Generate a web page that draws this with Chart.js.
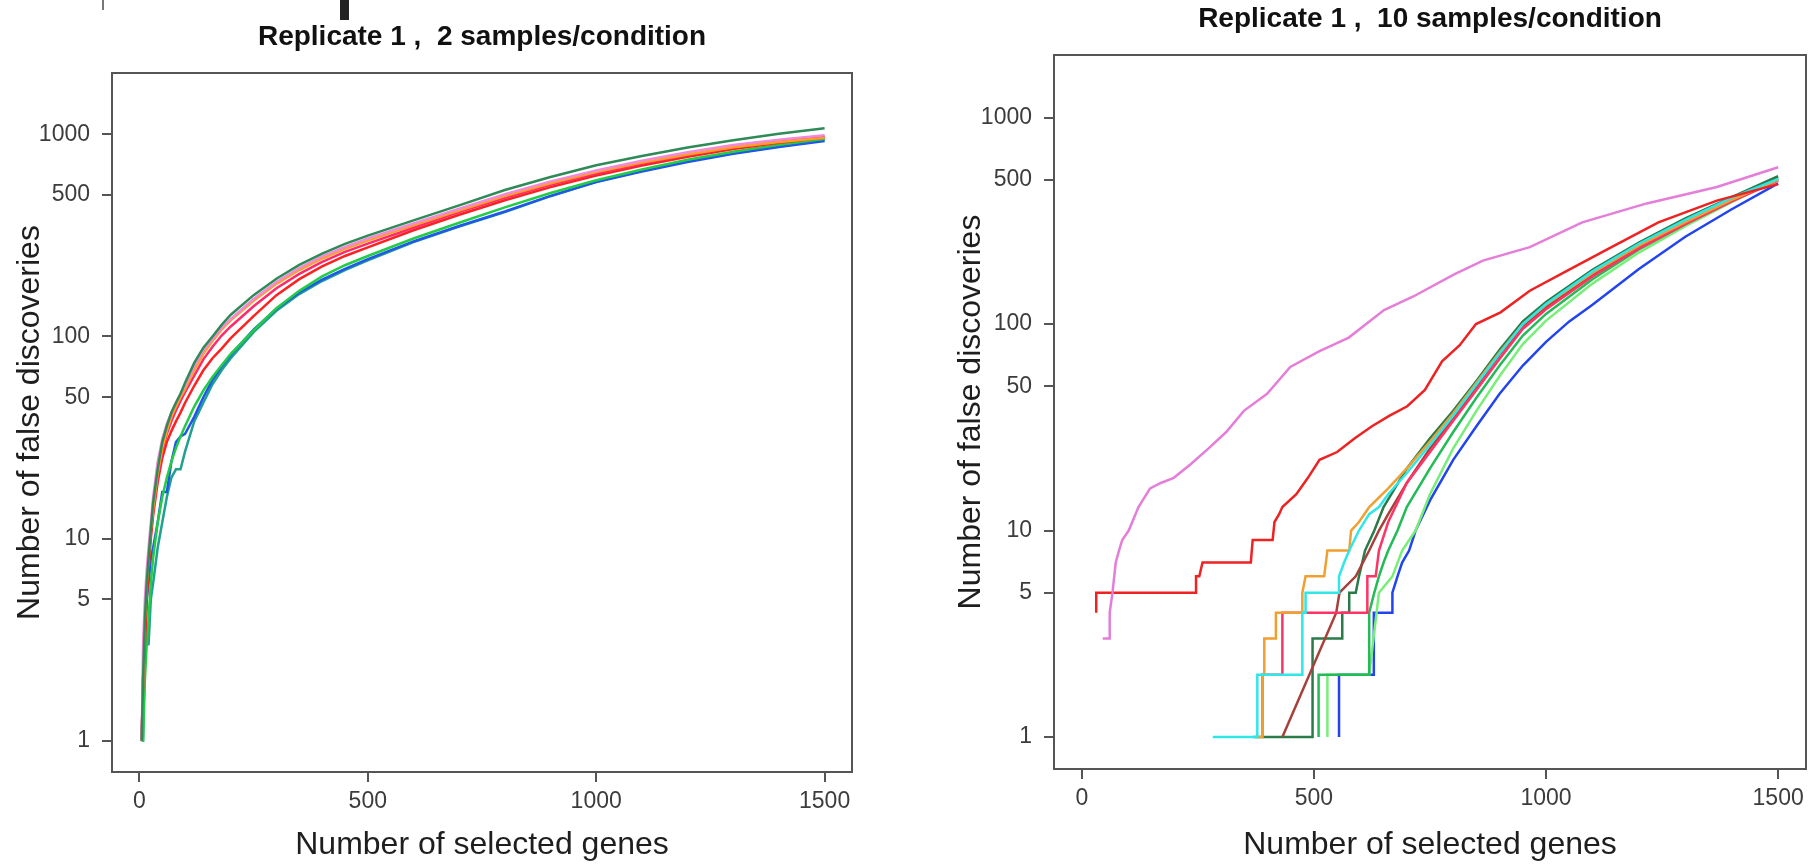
<!DOCTYPE html>
<html>
<head>
<meta charset="utf-8">
<title>False discoveries vs selected genes</title>
<script src="https://cdn.jsdelivr.net/npm/chart.js@4.4.1/dist/chart.umd.min.js"></script>
<style>
  html, body { margin: 0; padding: 0; background: #fff; }
  body { width: 1817px; height: 864px; position: relative; overflow: hidden; }
  .panel { position: absolute; top: 0; height: 864px; }
  #leftPanel { left: 0; width: 880px; }
  #rightPanel { left: 940px; width: 877px; }
  .crop-mark { position: absolute; top: 0; background: #222; }
</style>
</head>
<body>
<!-- bits of the figure above that were cut off by the crop -->
<div class="crop-mark" style="left:102px;width:2px;height:10px;background:#777"></div>
<div class="crop-mark" style="left:340px;width:9px;height:20px"></div>

<div id="leftPanel" class="panel"><canvas id="leftChart" width="880" height="864"></canvas></div>
<div id="rightPanel" class="panel"><canvas id="rightChart" width="877" height="864"></canvas></div>

<script>
/* ========================================
   Data
   ======================================== */

const geneTicks = [0, 500, 1000, 1500];
const fdTicks = [1, 5, 10, 50, 100, 500, 1000];

// Left panel: 2 samples/condition (all curves share the same x grid)
const genesLeft = [5, 8, 12, 16, 20, 25, 30, 40, 50, 60, 70, 80, 90, 100, 120, 140, 160, 180, 200, 250, 300, 350, 400, 450, 500, 600, 700, 800, 900, 1000, 1100, 1200, 1300, 1400, 1500];
const fdLeftSeaGreen = [1, 2, 4, 6, 8, 11, 15, 22, 30, 36, 42, 47, 52, 59, 74, 88, 100, 114, 128, 160, 193, 226, 257, 287, 315, 375, 445, 530, 615, 703, 780, 860, 935, 1005, 1072];
const fdLeftPink = [1, 3, 5, 7, 9, 12, 16, 24, 31, 37, 42, 47, 52, 57, 71, 85, 97, 110, 122, 153, 186, 218, 249, 277, 305, 362, 428, 505, 585, 662, 740, 815, 885, 940, 990];
const fdLeftOrange = [1, 2, 4, 6, 8, 11, 14, 21, 28, 34, 40, 45, 50, 55, 68, 82, 95, 108, 120, 150, 182, 213, 243, 271, 298, 355, 420, 495, 572, 650, 725, 795, 862, 915, 960];
const fdLeftCrimson = [1, 2, 4, 6, 8, 11, 14, 20, 27, 33, 38, 43, 48, 53, 64, 77, 89, 101, 112, 141, 173, 204, 234, 262, 288, 345, 412, 485, 562, 640, 715, 790, 860, 922, 975];
const fdLeftRed = [1, 2, 3, 5, 7, 10, 13, 19, 25, 30, 34, 38, 42, 47, 57, 68, 78, 87, 98, 126, 160, 192, 222, 250, 276, 335, 400, 472, 548, 625, 700, 775, 845, 908, 965];
const fdLeftGreen = [1, 1, 2, 3, 4, 6, 8, 12, 16, 20, 24, 28, 32, 36, 45, 54, 63, 72, 82, 107, 138, 168, 198, 225, 250, 305, 365, 435, 512, 592, 670, 748, 820, 888, 950];
const fdLeftBlue = [1, 2, 3, 5, 6, 8, 9, 12, 17, 17, 24, 30, 32, 33, 40, 50, 61, 71, 81, 108, 137, 165, 191, 216, 241, 295, 352, 415, 496, 580, 655, 730, 800, 865, 925];
const fdLeftTeal = [1, 1, 3, 3, 3, 5, 6, 9, 12, 16, 20, 22, 22, 27, 38, 47, 58, 68, 78, 105, 134, 162, 188, 213, 238, 293, 350, 412, 494, 582, 660, 735, 805, 870, 935];

// Right panel: 10 samples/condition (each curve has its own steps)
const orchidGenes = [45, 60, 60, 66, 73, 80, 87, 101, 122, 147, 170, 198, 235, 273, 311, 349, 399, 449, 512, 575, 651, 714, 802, 864, 965, 1078, 1217, 1368, 1500];
const orchidFd = [3, 3, 4, 5, 7, 8, 9, 10, 13, 16, 17, 18, 21, 25, 30, 38, 46, 62, 74, 86, 117, 136, 174, 203, 236, 311, 384, 461, 575];

const redGenes = [31, 31, 246, 246, 253, 260, 364, 368, 411, 415, 425, 432, 462, 487, 512, 550, 588, 625, 663, 701, 739, 776, 814, 849, 902, 965, 1053, 1141, 1242, 1368, 1500];
const redFd = [4, 5, 5, 6, 6, 7, 7, 9, 9, 11, 12, 13, 15, 18, 22, 24, 28, 32, 36, 40, 48, 66, 79, 100, 114, 145, 185, 236, 311, 396, 476];

const cyanGenes = [282, 378, 378, 475, 475, 482, 482, 554, 554, 565, 576, 597, 619, 640, 660, 700, 750, 800, 850, 900, 950, 1000, 1100, 1200, 1300, 1400, 1500];
const cyanFd = [1, 1, 2, 2, 4, 4, 5, 5, 6, 7, 8, 10, 12, 13, 15, 19, 26, 36, 51, 72, 100, 125, 180, 245, 320, 410, 505];

const orangeGenes = [378, 389, 389, 393, 393, 418, 418, 475, 475, 482, 522, 529, 576, 580, 597, 619, 660, 700, 750, 800, 850, 900, 950, 1000, 1100, 1200, 1300, 1400, 1500];
const orangeFd = [1, 1, 2, 2, 3, 3, 4, 4, 5, 6, 6, 8, 8, 10, 11, 13, 16, 20, 27, 37, 52, 73, 100, 124, 177, 240, 312, 400, 500];

const crimsonGenes = [389, 389, 432, 432, 615, 615, 633, 640, 660, 700, 750, 800, 850, 900, 950, 1000, 1100, 1200, 1300, 1400, 1500];
const crimsonFd = [1, 2, 2, 4, 4, 6, 6, 8, 11, 17, 24, 34, 48, 68, 95, 118, 170, 232, 305, 393, 495];

const brownGenes = [432, 548, 555, 590, 619, 640, 660, 700, 750, 800, 850, 900, 950, 1000, 1100, 1200, 1300, 1400, 1500];
const brownFd = [1, 4, 5, 6, 8, 10, 12, 17, 25, 35, 50, 71, 98, 121, 174, 238, 310, 398, 500];

const darkGreenGenes = [370, 497, 497, 561, 561, 576, 576, 590, 597, 610, 630, 650, 700, 750, 800, 850, 900, 950, 1000, 1100, 1200, 1300, 1400, 1500];
const darkGreenFd = [1, 1, 3, 3, 4, 4, 5, 5, 6, 8, 10, 13, 20, 28, 38, 53, 75, 103, 128, 183, 248, 325, 412, 520];

const greenGenes = [510, 510, 619, 619, 630, 640, 650, 660, 680, 700, 750, 800, 850, 900, 950, 1000, 1100, 1200, 1300, 1400, 1500];
const greenFd = [1, 2, 2, 4, 5, 6, 7, 8, 10, 13, 20, 30, 44, 63, 88, 112, 165, 230, 305, 395, 510];

const lightGreenGenes = [529, 529, 619, 640, 669, 690, 719, 750, 800, 850, 900, 950, 1000, 1100, 1200, 1300, 1400, 1500];
const lightGreenFd = [1, 2, 2, 5, 6, 8, 10, 15, 25, 38, 56, 80, 104, 157, 222, 298, 390, 505];

const blueGenes = [554, 554, 629, 629, 669, 669, 680, 690, 705, 719, 750, 800, 850, 900, 950, 1000, 1050, 1100, 1200, 1300, 1400, 1500];
const blueFd = [1, 2, 2, 4, 4, 5, 6, 7, 8, 10, 14, 22, 32, 46, 63, 82, 103, 124, 185, 265, 360, 480];

/* ========================================
   Chart setup
   ======================================== */

const FONT = "'Liberation Sans', Arial, Helvetica, sans-serif";
Chart.defaults.font.family = FONT;
Chart.defaults.color = '#3c3c3c';

// R-style box around the plotting region
const framePlugin = {
    id: 'frame',
    afterDraw(chart) {
        const { ctx, chartArea: a } = chart;
        ctx.save();
        ctx.strokeStyle = '#555';
        ctx.lineWidth = 2;
        ctx.strokeRect(a.left, a.top, a.right - a.left, a.bottom - a.top);
        ctx.restore();
    }
};

function series(label, color, xs, ys) {
    return {
        label: label,
        borderColor: color,
        backgroundColor: color,
        data: xs.map((x, i) => ({ x: x, y: ys[i] })),
        borderWidth: 2.5,
        pointRadius: 0,
        tension: 0,
        fill: false
    };
}

function panelOptions(p) {
    const tickGrid = { drawOnChartArea: false, drawTicks: true, tickLength: 10, color: '#555', lineWidth: 2 };
    return {
        responsive: false,
        animation: false,
        events: [],
        layout: { padding: { top: 0, right: p.padRight, bottom: 0, left: 0 } },
        plugins: {
            legend: { display: false },
            tooltip: { enabled: false },
            title: {
                display: true,
                fullSize: false,   // centre over the plot box, as R does
                text: p.title,
                color: '#111',
                font: { size: 28, weight: 'bold', lineHeight: 1 },
                padding: { top: p.titleTop, bottom: p.titleBottom }
            }
        },
        scales: {
            x: {
                type: 'linear',
                min: -60,
                max: 1560,
                afterBuildTicks: s => { s.ticks = geneTicks.map(v => ({ value: v })); },
                afterFit: s => { s.height = p.xHeight; },
                ticks: { font: { size: 23 }, color: '#3c3c3c', padding: 6, maxRotation: 0, autoSkip: false, callback: v => String(v) },
                grid: tickGrid,
                border: { display: false },
                title: {
                    display: true,
                    text: 'Number of selected genes',
                    color: '#1e1e1e',
                    font: { size: 32, lineHeight: 1 },
                    padding: { top: 0, bottom: 3 }
                }
            },
            y: {
                type: 'logarithmic',
                min: 0.746,
                max: 2010,
                afterBuildTicks: s => { s.ticks = fdTicks.map(v => ({ value: v })); },
                afterFit: s => { s.width = p.yWidth; },
                ticks: { font: { size: 23 }, color: '#3c3c3c', padding: 12, autoSkip: false, callback: v => String(v) },
                grid: tickGrid,
                border: { display: false },
                title: {
                    display: true,
                    text: 'Number of false discoveries',
                    color: '#1e1e1e',
                    font: { size: 32, lineHeight: 1 },
                    padding: { top: p.yTitlePad, bottom: 0 }
                }
            }
        }
    };
}

new Chart(document.getElementById('leftChart'), {
    type: 'line',
    data: {
        datasets: [
            series('seagreen', '#2e8b57', genesLeft, fdLeftSeaGreen),
            series('pink', '#f08ad8', genesLeft, fdLeftPink),
            series('orange', '#ffa020', genesLeft, fdLeftOrange),
            series('crimson', '#ff2a6d', genesLeft, fdLeftCrimson),
            series('red', '#ff2020', genesLeft, fdLeftRed),
            series('green', '#22cc44', genesLeft, fdLeftGreen),
            series('blue', '#2255ee', genesLeft, fdLeftBlue),
            series('teal', '#20a090', genesLeft, fdLeftTeal)
        ]
    },
    options: panelOptions({
        title: 'Replicate 1 ,  2 samples/condition',
        titleTop: 23, titleBottom: 22,
        padRight: 28, xHeight: 92, yWidth: 112, yTitlePad: 14
    }),
    plugins: [framePlugin]
});

new Chart(document.getElementById('rightChart'), {
    type: 'line',
    data: {
        datasets: [
            series('orchid', '#e47ed8', orchidGenes, orchidFd),
            series('red', '#ee2222', redGenes, redFd),
            series('cyan', '#30e6e6', cyanGenes, cyanFd),
            series('orange', '#f0a030', orangeGenes, orangeFd),
            series('crimson', '#ff3366', crimsonGenes, crimsonFd),
            series('brown', '#a8403a', brownGenes, brownFd),
            series('darkgreen', '#2a7a4a', darkGreenGenes, darkGreenFd),
            series('green', '#22bb55', greenGenes, greenFd),
            series('lightgreen', '#77ee77', lightGreenGenes, lightGreenFd),
            series('blue', '#2244ee', blueGenes, blueFd)
        ]
    },
    options: panelOptions({
        title: 'Replicate 1 ,  10 samples/condition',
        titleTop: 5, titleBottom: 22,
        padRight: 11, xHeight: 95, yWidth: 114, yTitlePad: 15
    }),
    plugins: [framePlugin]
});
</script>
</body>
</html>
